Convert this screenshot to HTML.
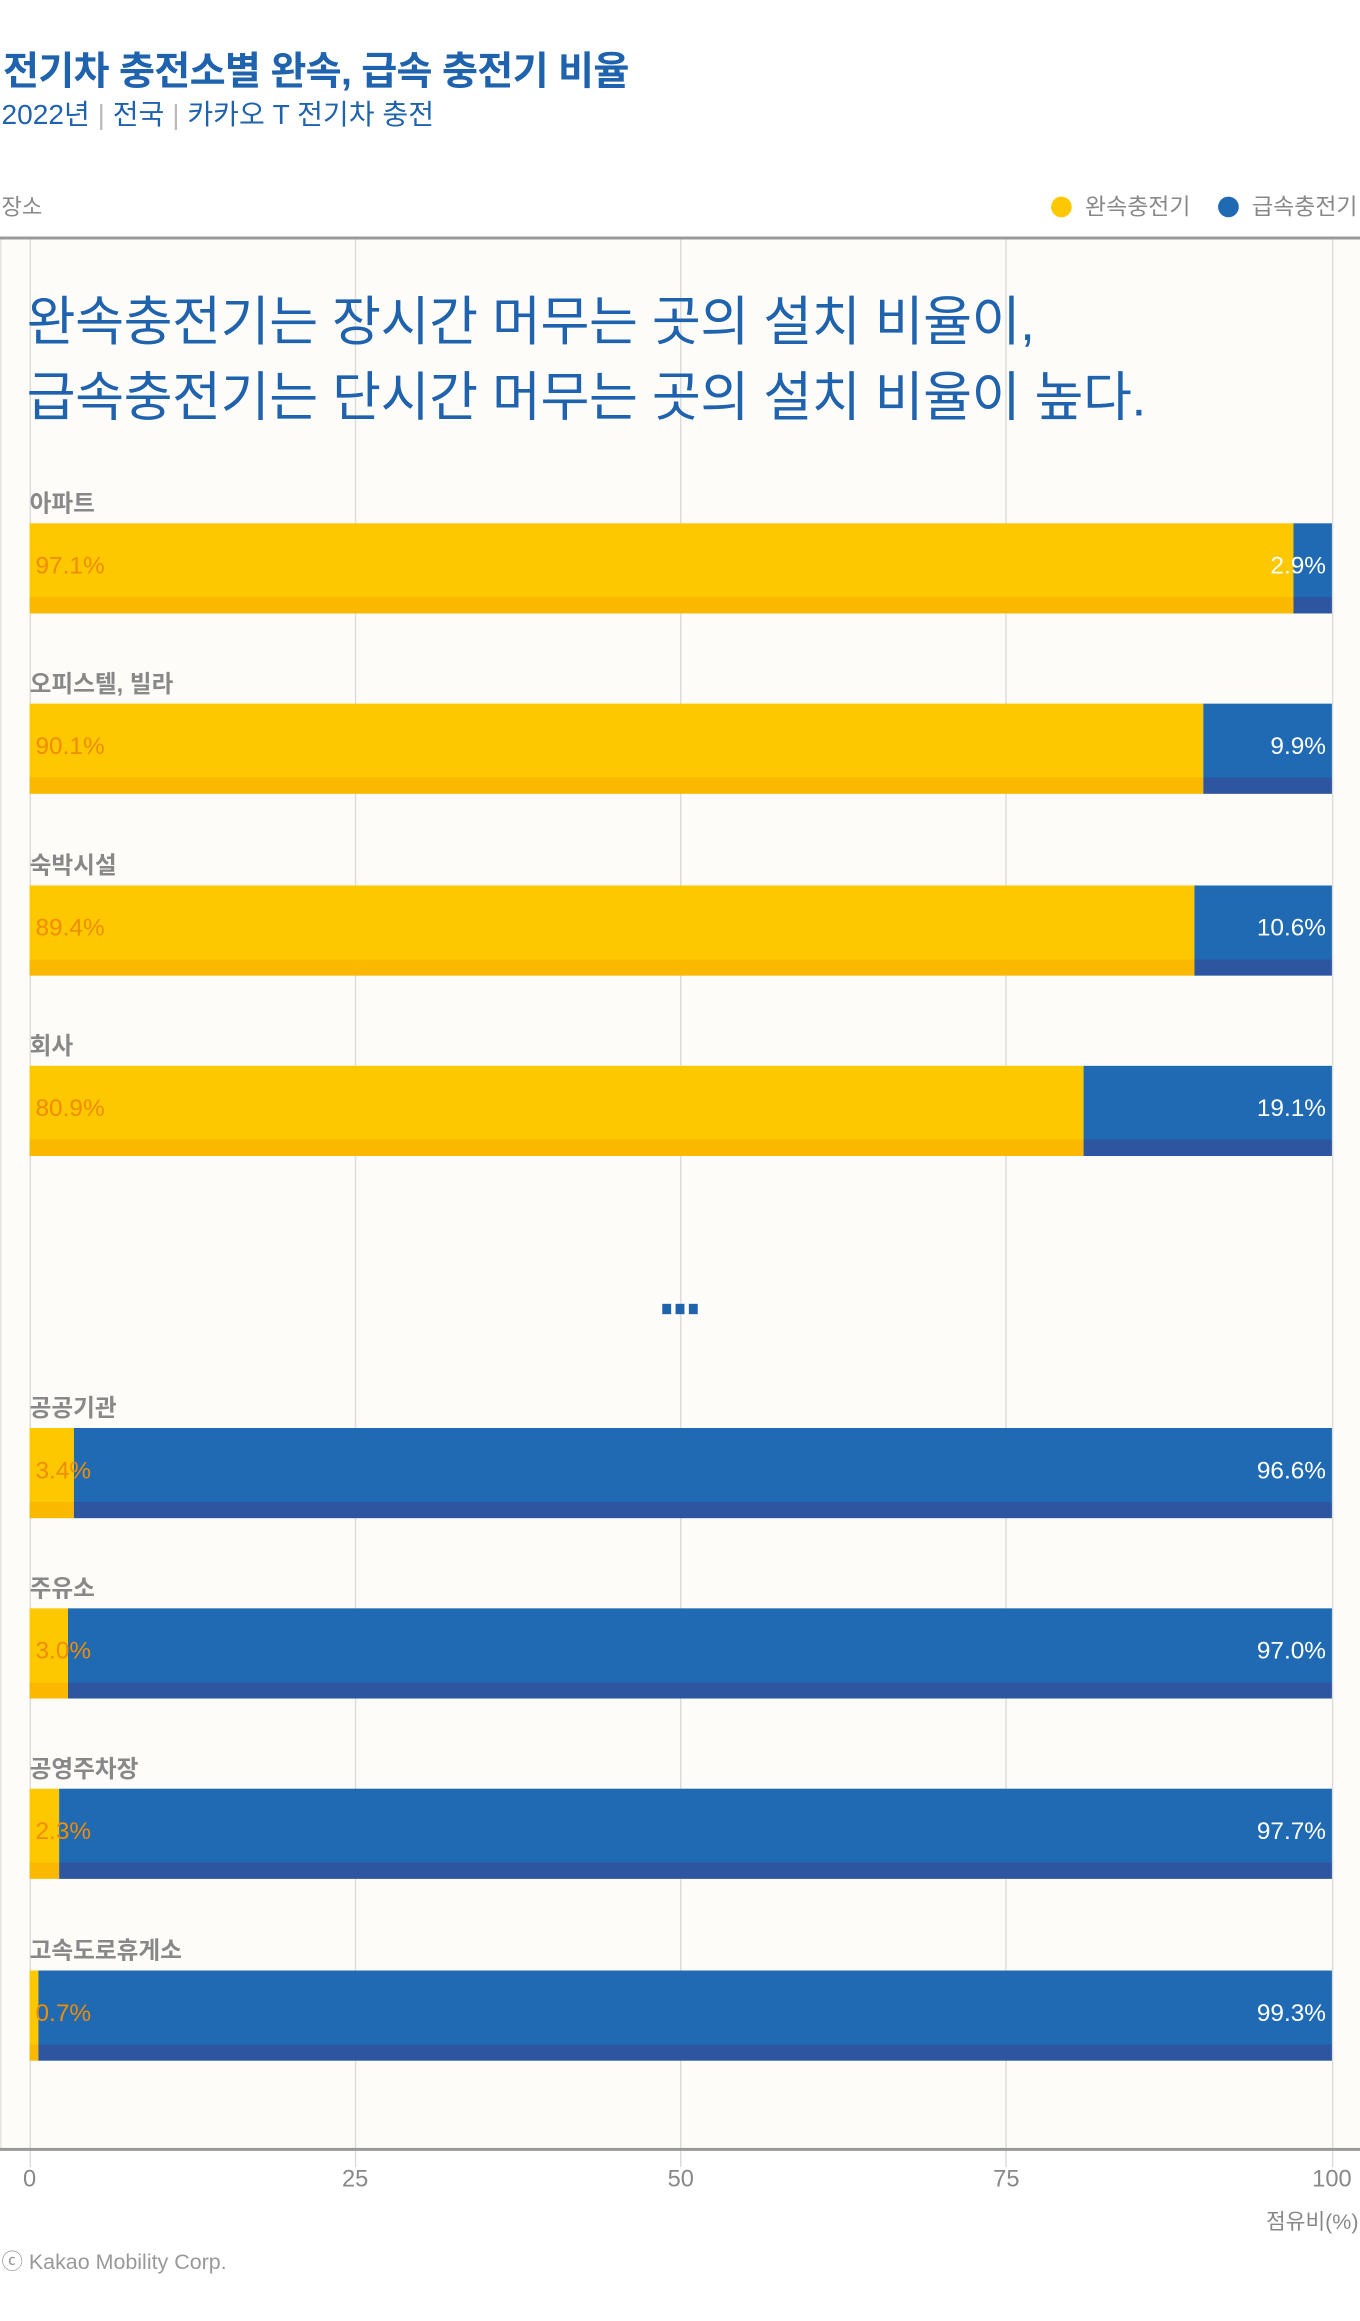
<!DOCTYPE html>
<html><head><meta charset="utf-8">
<style>
html,body{margin:0;padding:0;background:#fff;width:1360px;height:2320px;overflow:hidden;}
#wrap{position:absolute;left:0;top:0;width:920px;height:1570px;transform:scale(1.47826);transform-origin:0 0;font-family:"Liberation Sans","Noto Sans CJK KR",sans-serif;}
.abs{position:absolute;white-space:nowrap;}
</style></head><body>
<div id="wrap">
<div class="abs" style="left:2px;top:26px;font-size:26.5px;font-weight:bold;color:#1f62ad;letter-spacing:-0.5px;">전기차 충전소별 완속, 급속 충전기 비율</div>
<div class="abs" style="left:1px;top:63px;font-size:19px;color:#1f62ad;">2022년 <span style="color:#bbb">|</span> 전국 <span style="color:#bbb">|</span> 카카오 T 전기차 충전</div>
<div class="abs" style="left:1px;top:129px;font-size:15px;color:#888;">장소</div>
<div class="abs" style="left:711px;top:128px;font-size:15.5px;color:#888;"><span style="display:inline-block;width:14px;height:14px;border-radius:50%;background:#fdc800;vertical-align:-2px;margin-right:9px"></span>완속충전기</div>
<div class="abs" style="left:824px;top:128px;font-size:15.5px;color:#888;"><span style="display:inline-block;width:14px;height:14px;border-radius:50%;background:#1f6ab3;vertical-align:-2px;margin-right:9px"></span>급속충전기</div>
<div class="abs" style="left:0;top:161px;width:920px;height:1293px;background:#fdfcf8;border-left:1px solid #e4e4e4;box-sizing:border-box;"></div>
<div class="abs" style="left:0;top:160px;width:920px;height:2px;background:#999;"></div>
<div id="grid"></div>
<div class="abs" style="left:18px;top:192px;font-size:36px;line-height:51px;color:#1f62ad;letter-spacing:-0.3px;">완속충전기는 장시간 머무는 곳의 설치 비율이,<br>급속충전기는 단시간 머무는 곳의 설치 비율이 높다.</div>
<div id="bars"></div>
<div class="abs" style="left:448px;top:876px;">
<span style="display:inline-block;width:6px;height:7px;background:#1f62ad;margin-right:3px"></span><span style="display:inline-block;width:6px;height:7px;background:#1f62ad;margin-right:3px"></span><span style="display:inline-block;width:6px;height:7px;background:#1f62ad"></span></div>
<div class="abs" style="left:0;top:1453px;width:920px;height:2px;background:#999;"></div>
<div id="ticks"></div>
<div class="abs" style="right:1px;top:1492px;font-size:14.5px;color:#888;">점유비(%)</div>
<div class="abs" style="left:1px;top:1519px;font-size:14.5px;color:#999;">ⓒ Kakao Mobility Corp.</div>
</div>
<script>
const categories = ["아파트","오피스텔, 빌라","숙박시설","회사","공공기관","주유소","공영주차장","고속도로휴게소"];
const slowValues = [97.1,90.1,89.4,80.9,3.4,3.0,2.3,0.7];
const fastValues = [2.9,9.9,10.6,19.1,96.6,97.0,97.7,99.3];
const tickValues = [0,25,50,75,100];
const X0=20,X1=901;
function xScale(v){return X0+(X1-X0)*v/100;}
function barTop(i){return i<4 ? 354+i*122.3 : 966+(i-4)*122.2;}
function mk(parent,css){const d=document.createElement('div');d.className='abs';d.style.cssText=css;parent.appendChild(d);return d;}
const grid=document.getElementById('grid');
tickValues.forEach(t=>{
  const g=mk(grid,`left:${xScale(t)-0.5}px;top:162px;width:1px;height:1304px;background:#dcdcdc;`);
  
  
});
const ticks=document.getElementById('ticks');
tickValues.forEach(t=>{
  const l=mk(ticks,`left:${xScale(t)-30}px;width:60px;text-align:center;top:1466px;font-size:16px;color:#888;`);
  l.textContent=t;
  
  
});
const bars=document.getElementById('bars');
categories.forEach((c,i)=>{
  const y=barTop(i);
  const lab=mk(bars,`left:20px;top:${y-27}px;font-size:16px;font-weight:bold;color:#888;`);
  lab.textContent=c;
  
  
  const xs=xScale(slowValues[i]);
  const s=mk(bars,`left:${X0}px;top:${y}px;width:${xs-X0}px;height:61px;background:linear-gradient(#fdc800 0,#fdc800 50px,#fbb800 50px);`);
  
  
  const f=mk(bars,`left:${xs}px;top:${y}px;width:${xScale(slowValues[i]+fastValues[i])-xs}px;height:61px;background:linear-gradient(#1f6ab3 0,#1f6ab3 50px,#2d55a0 50px);`);
  
  
  const sv=mk(bars,`left:24px;top:${y+20}px;font-size:16.5px;color:#f08c00;`);
  sv.textContent=slowValues[i].toFixed(1)+'%';
  
  
  const fv=mk(bars,`right:${920-897}px;top:${y+20}px;font-size:16.5px;color:#fff;`);
  fv.textContent=fastValues[i].toFixed(1)+'%';
  
  
});
</script>
</body></html>
